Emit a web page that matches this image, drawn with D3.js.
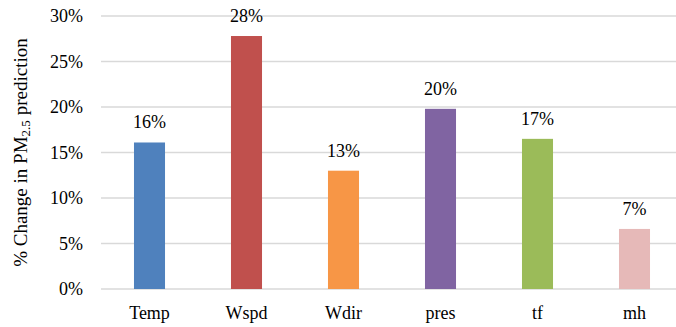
<!DOCTYPE html>
<html>
<head>
<meta charset="utf-8">
<script src="https://cdn.jsdelivr.net/npm/d3@7"></script>
<style>
  html, body { margin: 0; padding: 0; background: #fff; }
  svg { display: block; }
  svg text { font-family: "Liberation Serif", "Times New Roman", Times, "DejaVu Serif", serif !important; fill: #000; }
</style>
</head>
<body>
<svg id="chart" width="676" height="327"></svg>
<script>
// Sensitivity of the PM2.5 prediction to each input variable
const categories = ["Temp", "Wspd", "Wdir", "pres", "tf", "mh"];
const values = [16.1, 27.8, 13.0, 19.8, 16.5, 6.6];
const valueLabels = ["16%", "28%", "13%", "20%", "17%", "7%"];
const barColors = ["#4f81bd", "#c0504d", "#f79646", "#8064a2", "#9bbb59", "#e6b9b8"];
const yTicks = [0, 5, 10, 15, 20, 25, 30];

const serif = '"Liberation Serif", "Times New Roman", Times, "DejaVu Serif", serif';

const svg = d3.select("#chart");
const plot = { left: 101, right: 683, top: 16, bottom: 289 };

const x = d3.scaleBand()
  .domain(categories)
  .range([plot.left, plot.right])
  .paddingInner(0.68)
  .paddingOuter(0.34);

const y = d3.scaleLinear()
  .domain([0, 30])
  .range([plot.bottom, plot.top]);

// horizontal gridlines
svg.append("g")
  .selectAll("line")
  .data(yTicks)
  .join("line")
  .attr("x1", plot.left)
  .attr("x2", plot.right)
  .attr("y1", d => y(d))
  .attr("y2", d => y(d))
  .attr("stroke", "#d9d9d9")
  .attr("stroke-width", 1.5);

// y axis tick labels
const yAxis = d3.axisLeft(y)
  .tickValues(yTicks)
  .tickFormat(d => d + "%")
  .tickSize(0)
  .tickPadding(18);
const yG = svg.append("g")
  .attr("transform", `translate(${plot.left},0)`)
  .call(yAxis)
  .attr("font-family", serif)
  .attr("font-size", 18);
yG.select(".domain").remove();
yG.selectAll("text").attr("fill", "#000");

// bars
svg.append("g")
  .selectAll("rect")
  .data(categories)
  .join("rect")
  .attr("x", d => x(d))
  .attr("width", x.bandwidth())
  .attr("y", (d, i) => y(values[i]))
  .attr("height", (d, i) => y(0) - y(values[i]))
  .attr("fill", (d, i) => barColors[i]);

// value labels above bars
svg.append("g")
  .attr("font-family", serif)
  .attr("font-size", 18)
  .selectAll("text")
  .data(categories)
  .join("text")
  .attr("x", d => x(d) + x.bandwidth() / 2)
  .attr("y", (d, i) => y(values[i]) - 14)
  .attr("text-anchor", "middle")
  .text((d, i) => valueLabels[i]);

// x axis category labels
const xAxis = d3.axisBottom(x).tickSize(0).tickPadding(17);
const xG = svg.append("g")
  .attr("transform", `translate(0,${plot.bottom})`)
  .call(xAxis)
  .attr("font-family", serif)
  .attr("font-size", 18);
xG.select(".domain").remove();
xG.selectAll("text").attr("fill", "#000");

// y axis title with subscript
const title = svg.append("text")
  .attr("transform", `translate(27,${(plot.top + plot.bottom) / 2}) rotate(-90)`)
  .attr("text-anchor", "middle")
  .attr("font-family", serif)
  .attr("font-size", 19);
title.append("tspan").text("% Change in PM");
title.append("tspan").attr("baseline-shift", "-25%").attr("font-size", 13).text("2.5");
title.append("tspan").attr("dx", 5).text("prediction");
</script>
</body>
</html>
